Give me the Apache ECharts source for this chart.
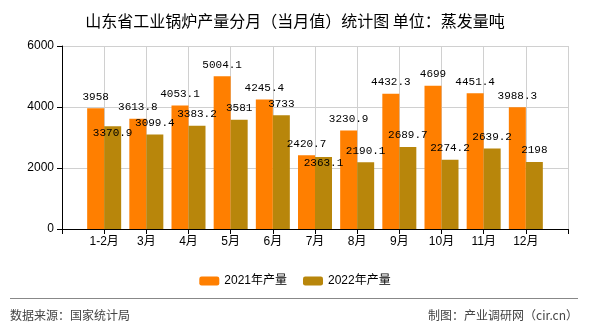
<!DOCTYPE html>
<html>
<head>
<meta charset="utf-8">
<script src="https://cdn.jsdelivr.net/npm/echarts@6/dist/echarts.min.js"></script>
<style>html,body{margin:0;padding:0;background:#fff;}#c{width:590px;height:330px;}</style>
</head>
<body>
<div id="c"></div>
<script>
var categories = ['1-2月','3月','4月','5月','6月','7月','8月','9月','10月','11月','12月'];
var values2021 = [3958, 3613.8, 4053.1, 5004.1, 4245.4, 2420.7, 3230.9, 4432.3, 4699, 4451.4, 3988.3];
var values2022 = [3370.9, 3099.4, 3383.2, 3581, 3733, 2363.1, 2190.1, 2689.7, 2274.2, 2639.2, 2198];
var seriesNames = ['2021年产量', '2022年产量'];
var yTicks = [0, 2000, 4000, 6000];
var titleText = '山东省工业锅炉产量分月（当月值）统计图 单位：蒸发量吨';
var sourceText = '数据来源：国家统计局';
var creditText = '制图：产业调研网（cir.cn）';

// padded categories so the axis has one empty slot at each end
var cats = [''].concat(categories).concat(['']);
var insideIdx2022 = [0, 5];
function build(vals, insideIdx) {
  var out = [null];
  vals.forEach(function (v, i) {
    if (insideIdx && insideIdx.indexOf(i) >= 0) {
      out.push({value: v, label: {position: 'insideTop', distance: 1}});
    } else {
      out.push(v);
    }
  });
  out.push(null);
  return out;
}
var labelStyle = {show: true, position: 'top', distance: 6, color: '#000',
  fontFamily: 'Liberation Mono, monospace', fontSize: 11};

var chart = echarts.init(document.getElementById('c'));
chart.setOption({
  animation: false,
  backgroundColor: '#fff',
  title: {text: titleText, left: 'center', top: 8,
    textStyle: {fontFamily: 'Noto Sans CJK SC', fontSize: 16, fontWeight: 'normal', color: '#000'}},
  legend: {data: seriesNames, top: 270, left: 'center', itemWidth: 20, itemHeight: 9, itemGap: 16,
    textStyle: {fontFamily: 'Liberation Sans, Noto Sans CJK SC', fontSize: 12, color: '#000'}},
  grid: {left: 62, right: 22, top: 46, bottom: 101, containLabel: false},
  xAxis: {type: 'category', data: cats, boundaryGap: false,
    axisLine: {lineStyle: {color: '#000'}},
    axisTick: {show: true, alignWithLabel: true, length: 5, lineStyle: {color: '#000'}},
    axisLabel: {interval: 0, color: '#000', fontSize: 12, margin: 7,
      fontFamily: 'Liberation Sans, Noto Sans CJK SC'},
    splitLine: {show: true, lineStyle: {color: '#d0d0d0'}}},
  yAxis: {type: 'value', min: yTicks[0], max: yTicks[yTicks.length - 1], interval: 2000,
    axisLine: {show: true, lineStyle: {color: '#000'}},
    axisTick: {show: true, length: 5, lineStyle: {color: '#000'}},
    axisLabel: {color: '#000', fontSize: 12, margin: 8, fontFamily: 'Liberation Sans',
      formatter: function (v) { return String(v); }},
    splitLine: {show: true, lineStyle: {color: '#d0d0d0'}}},
  series: [
    {name: seriesNames[0], type: 'bar', data: build(values2021), barWidth: 17, barGap: '0%',
      itemStyle: {color: '#FF7F00'}, label: labelStyle},
    {name: seriesNames[1], type: 'bar', data: build(values2022, insideIdx2022), barWidth: 17, barGap: '0%',
      itemStyle: {color: '#B8860B'}, label: labelStyle}
  ],
  graphic: [
    {type: 'line', shape: {x1: 10, y1: 298.5, x2: 578, y2: 298.5}, style: {stroke: '#888', lineWidth: 1}},
    {type: 'text', left: 10, top: 309, style: {text: sourceText, fill: '#444',
      font: '12px "Noto Sans CJK SC"'}},
    {type: 'text', right: 12, top: 309, style: {text: creditText, fill: '#444',
      font: '12px "Noto Sans CJK SC"'}}
  ]
});
</script>
</body>
</html>
